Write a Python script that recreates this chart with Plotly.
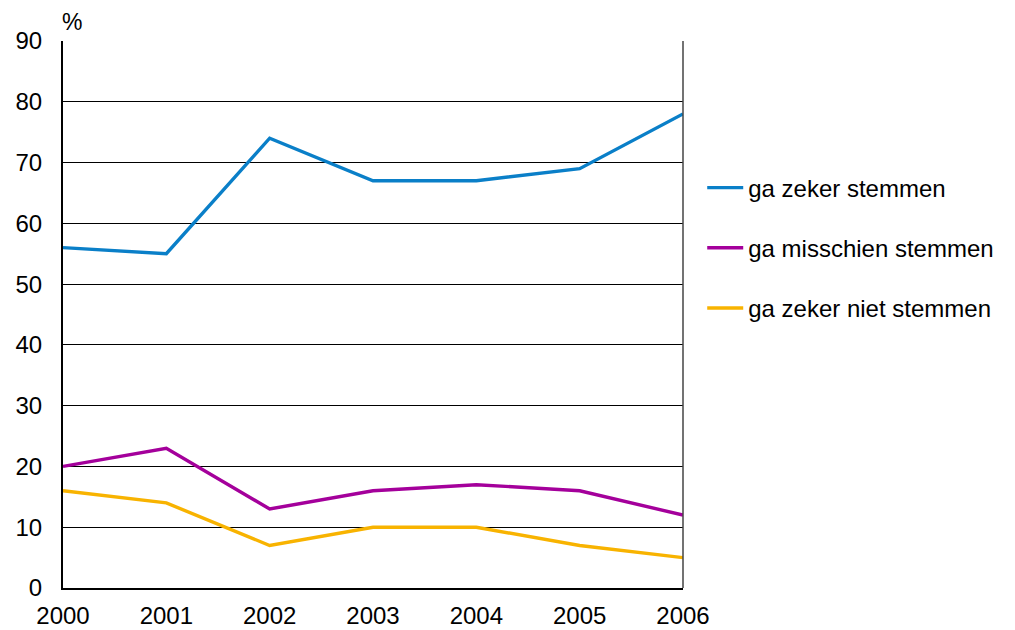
import plotly.graph_objects as go

years = [2000, 2001, 2002, 2003, 2004, 2005, 2006]
zeker = [56, 55, 74, 67, 67, 69, 78]
misschien = [20, 23, 13, 16, 17, 16, 12]
niet = [16, 14, 7, 10, 10, 7, 5]
names = ["ga zeker stemmen", "ga misschien stemmen", "ga zeker niet stemmen"]
colors = ["#0A7FC8", "#A4009B", "#F8B300"]
y_ticks = [0, 10, 20, 30, 40, 50, 60, 70, 80, 90]

fig = go.Figure()
for i, (vals, name, col) in enumerate(zip([zeker, misschien, niet], names, colors)):
    fig.add_trace(go.Scatter(x=years, y=vals, mode="lines", name=name,
                             legendgroup=f"g{i}",
                             line=dict(color=col, width=3.4), cliponaxis=False))

# page body has an 8px default margin, so the figure is sized to fit the window
fig.update_layout(
    width=1007, height=622,
    margin=dict(l=55, r=332, t=33, b=42, autoexpand=False),
    paper_bgcolor="white", plot_bgcolor="white",
    font=dict(family="Liberation Sans, Arial, sans-serif", color="black", size=24),
    showlegend=True,
    legend=dict(x=1.031, y=0.6216, xanchor="left", yanchor="middle",
                font=dict(size=24), tracegroupgap=26, traceorder="grouped",
                itemwidth=36, bgcolor="rgba(0,0,0,0)"),
    xaxis=dict(range=[2000, 2006], tickvals=years, ticktext=[str(y) for y in years],
               showgrid=False, showline=True, linecolor="black", linewidth=2,
               ticks="", zeroline=False, tickfont=dict(size=24), ticklabelstandoff=5),
    yaxis=dict(range=[0, 90], tickvals=y_ticks, showgrid=True, gridcolor="black",
               gridwidth=1, showline=True, linecolor="black", linewidth=2,
               ticks="", zeroline=False, tickfont=dict(size=24), ticklabelstandoff=14),
    shapes=[dict(type="line", xref="paper", yref="paper", x0=1, x1=1, y0=0, y1=1,
                 line=dict(color="#444444", width=1.5))],
    annotations=[dict(text="%", xref="paper", yref="paper", x=0.0, y=1.0,
                      xanchor="left", yanchor="bottom", yshift=4, xshift=-3,
                      showarrow=False, font=dict(size=23))],
)

fig.write_html("out.html")
